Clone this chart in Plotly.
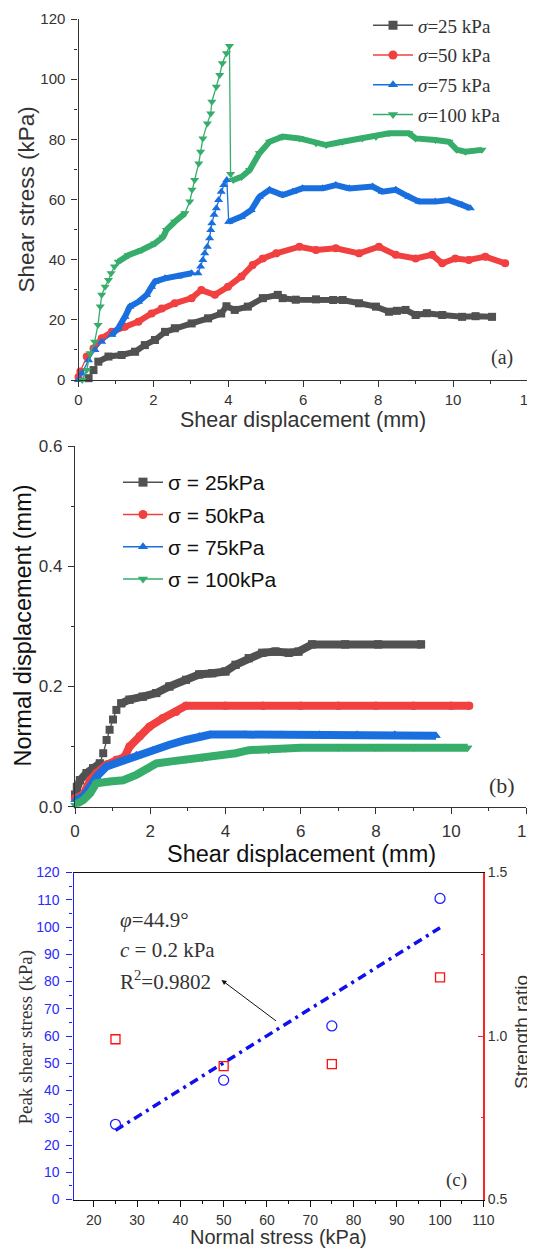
import numpy as np
import plotly.graph_objects as go

# The page shows the figure with an 8 px body margin, so the figure is sized to fit
OFF = 8
W, H = 535 - OFF, 1250 - OFF
def px(x): return (x - OFF) / W
def py(y): return 1 - (y - OFF) / H

# ---------------- Panel (a): shear stress vs shear displacement ----------------
a25_x = [0.27,0.40,0.53,0.80,1.15,1.51,1.77,2.04,2.31,2.57,3.02,3.46,3.81,3.95,4.17,4.52,4.92,5.32,5.45,5.80,6.34,6.80,7.05,7.49,7.94,8.29,8.50,8.73,9.00,9.30,9.71,10.24,10.60,11.04]
a25_y = [0.6,3.3,6.1,7.8,8.3,9.4,11.6,13.3,16.0,17.2,18.8,20.5,22.1,24.5,23.3,24.4,27.2,28.3,27.2,26.7,26.8,26.6,26.6,25.5,24.4,22.7,23.0,23.3,21.6,22.2,21.6,21.0,21.2,21.0]

a50_x = [0.00,0.05,0.22,0.40,0.62,0.89,1.24,1.60,1.95,2.22,2.57,3.02,3.28,3.64,3.99,4.35,4.65,4.92,5.28,5.90,6.34,6.87,7.49,8.02,8.47,9.00,9.44,9.71,10.06,10.42,10.86,11.39]
a50_y = [1.0,2.8,7.8,10.5,13.9,16.0,17.7,19.4,22.1,23.8,25.5,27.2,29.9,28.3,31.0,34.4,38.2,40.4,42.1,44.3,43.2,43.8,42.1,44.3,41.6,40.4,41.6,38.8,40.4,39.9,41.0,38.8]

a75_x = [0.00,0.09,0.27,0.44,0.62,0.89,1.06,1.24,1.37,1.60,1.82,1.95,2.04,2.31,2.66,3.02,3.19,3.26,3.32,3.37,3.44,3.50,3.53,3.56,3.62,3.68,3.74,3.81,3.88,3.96,4.01,4.35,4.61,4.83,5.10,5.45,5.72,5.98,6.52,6.87,7.23,7.85,8.11,8.47,8.82,9.09,9.53,9.89,10.24,10.46]
a75_y = [0.0,2.2,6.6,10.0,12.7,15.0,17.2,21.0,24.4,26.0,28.3,31.0,32.7,33.8,34.4,35.5,35.5,37.7,39.9,42.1,44.3,47.1,49.9,52.1,54.9,57.1,59.8,62.6,64.8,66.5,52.6,54.3,56.5,60.9,63.2,61.5,62.6,63.7,63.7,64.8,63.7,64.3,62.6,63.2,60.9,59.3,59.3,59.8,58.2,57.1]

a100_x = [0.10,0.22,0.31,0.43,0.52,0.58,0.62,0.71,0.80,0.87,0.96,1.06,1.33,1.69,2.04,2.26,2.35,2.57,2.84,2.97,3.03,3.10,3.21,3.26,3.32,3.44,3.53,3.56,3.68,3.77,3.84,3.95,4.03,4.06,4.13,4.35,4.57,4.83,5.10,5.45,5.90,6.34,6.61,7.05,7.58,7.94,8.29,8.82,9.00,9.53,9.89,10.10,10.33,10.77]
a100_y = [0.0,3.3,8.9,12.7,18.3,24.4,28.3,31.0,33.2,35.5,37.7,39.3,41.5,43.2,45.4,47.6,49.9,52.6,55.4,59.3,63.2,66.5,72.0,75.9,80.3,85.3,88.6,92.5,97.5,101.4,105.3,108.6,111.0,68.5,66.5,67.5,69.8,75.4,79.2,80.9,80.3,78.7,78.1,79.2,80.3,80.9,82.0,82.0,80.3,79.8,79.2,76.5,75.9,76.5]

# ---------------- Panel (b): normal displacement vs shear displacement ----------------
b25_x = [0.00,0.05,0.13,0.31,0.48,0.66,0.75,0.84,0.92,1.01,1.10,1.23,1.45,1.80,2.16,2.51,2.95,3.30,3.65,4.00,4.27,4.62,4.98,5.33,5.68,5.94,6.30,7.18,8.06,9.20]
b25_y = [0.020,0.033,0.044,0.056,0.064,0.072,0.089,0.111,0.128,0.145,0.161,0.172,0.178,0.183,0.189,0.200,0.211,0.220,0.222,0.225,0.236,0.247,0.256,0.258,0.256,0.258,0.270,0.270,0.270,0.270]

b50_x = [0.00,0.22,0.40,0.57,0.84,1.10,1.32,1.45,1.72,1.98,2.33,2.69,2.95,4.00,5.00,6.00,7.00,8.00,9.00,10.00,10.48]
b50_y = [0.014,0.020,0.044,0.056,0.070,0.078,0.083,0.100,0.117,0.133,0.147,0.158,0.168,0.168,0.168,0.168,0.168,0.168,0.168,0.168,0.168]

b75_x = [0.00,0.22,0.40,0.57,0.84,1.19,1.63,2.07,2.51,2.95,3.30,3.60,4.50,5.50,6.50,7.50,8.50,9.60]
b75_y = [0.011,0.017,0.033,0.050,0.067,0.075,0.086,0.094,0.103,0.111,0.117,0.120,0.120,0.120,0.120,0.120,0.120,0.118]

b100_x = [0.00,0.22,0.40,0.57,0.92,1.28,1.63,1.98,2.16,2.51,2.95,3.39,3.83,4.27,4.62,5.15,5.59,6.00,7.00,8.00,9.00,10.44]
b100_y = [0.003,0.011,0.022,0.039,0.042,0.044,0.053,0.064,0.072,0.075,0.078,0.081,0.086,0.089,0.094,0.094,0.097,0.098,0.098,0.098,0.098,0.098]

# ---------------- Panel (c): peak strength ----------------
normal_stress = [25, 50, 75, 100]
peak_shear = [27.6, 43.8, 63.7, 110.5]
strength_ratio = [0.990, 0.908, 0.914, 1.179]
fit_x = [25, 100]
fit_y = [25.4, 99.7]

legend_a = ["<i>σ</i>=25 kPa", "<i>σ</i>=50 kPa", "<i>σ</i>=75 kPa", "<i>σ</i>=100 kPa"]
legend_b = ["σ = 25kPa", "σ = 50kPa", "σ = 75kPa", "σ = 100kPa"]

colors = ["#515151", "#F14040", "#1A6FDF", "#37AD6B"]
symbols = ["square", "circle", "triangle-up", "triangle-down"]

SANS = "Liberation Sans, Arial, sans-serif"
SERIF = "Liberation Serif, Times New Roman, serif"
DARK = "#333333"

fig = go.Figure()

# bands where the reference shows dense (thick) markers
a_thick = [[(0.5, 99)], [(0.3, 99)], [(0.85, 3.1), (4.0, 99)], [(1.0, 2.9), (4.1, 99)]]
b_thick = [[(-1, 0.7), (1.2, 99)], [(-1, 99)], [(-1, 99)], [(-1, 99)]]

def add_series(xs, ys, i, thick, xa, ya, lw_thick, ms_thin, ms_thick):
    xs = np.array(xs, dtype=float)
    ys = np.array(ys, dtype=float)
    fig.add_trace(go.Scatter(x=xs, y=ys, mode="lines+markers", xaxis=xa, yaxis=ya,
                             line=dict(color=colors[i], width=1.3),
                             marker=dict(symbol=symbols[i], size=ms_thin, color=colors[i]),
                             showlegend=False, hoverinfo="skip", cliponaxis=False))
    mask = np.zeros(len(xs), dtype=bool)
    for lo, hi in thick:
        mask |= (xs >= lo) & (xs <= hi)
    yy = [float(v) if m else None for v, m in zip(ys, mask)]
    fig.add_trace(go.Scatter(x=xs, y=yy, mode="lines+markers", xaxis=xa, yaxis=ya,
                             line=dict(color=colors[i], width=lw_thick),
                             marker=dict(symbol=symbols[i], size=ms_thick, color=colors[i]),
                             connectgaps=False, showlegend=False, hoverinfo="skip",
                             cliponaxis=False))

for i, (xs, ys) in enumerate([(a25_x, a25_y), (a50_x, a50_y), (a75_x, a75_y), (a100_x, a100_y)]):
    add_series(xs, ys, i, a_thick[i], "x", "y", 6, 8, 7)
for i, (xs, ys) in enumerate([(b25_x, b25_y), (b50_x, b50_y), (b75_x, b75_y), (b100_x, b100_y)]):
    add_series(xs, ys, i, b_thick[i], "x2", "y2", 8, 8, 8)

# legend-only traces
for i in range(4):
    fig.add_trace(go.Scatter(x=[None], y=[None], mode="lines+markers", xaxis="x", yaxis="y",
                             name=legend_a[i], legend="legend", legendgroup="a%d" % i,
                             line=dict(color=colors[i], width=1.5),
                             marker=dict(symbol=symbols[i], size=9, color=colors[i])))
    fig.add_trace(go.Scatter(x=[None], y=[None], mode="lines+markers", xaxis="x2", yaxis="y2",
                             name=legend_b[i], legend="legend2", legendgroup="b%d" % i,
                             line=dict(color=colors[i], width=1.5),
                             marker=dict(symbol=symbols[i], size=9, color=colors[i])))

# panel (c)
fig.add_trace(go.Scatter(x=fit_x, y=fit_y, mode="lines", xaxis="x3", yaxis="y3",
                         line=dict(color="#1010ee", width=3.5, dash="9px,5px,3px,5px"),
                         showlegend=False, hoverinfo="skip"))
fig.add_trace(go.Scatter(x=normal_stress, y=peak_shear, mode="markers", xaxis="x3", yaxis="y3",
                         marker=dict(symbol="circle-open", size=10, color="#2020ff", line=dict(width=1.3)),
                         showlegend=False, hoverinfo="skip", cliponaxis=False))
fig.add_trace(go.Scatter(x=normal_stress, y=strength_ratio, mode="markers", xaxis="x3", yaxis="y4",
                         marker=dict(symbol="square-open", size=9, color="#ff1010", line=dict(width=1.3)),
                         showlegend=False, hoverinfo="skip", cliponaxis=False))

def axis_common(color=DARK, fsize=15, tcolor=DARK):
    return dict(showline=True, linecolor=color, linewidth=1.2, ticks="outside", ticklen=6,
                tickwidth=1.2, tickcolor=color, showgrid=False, zeroline=False, automargin=False,
                tickfont=dict(family=SANS, size=fsize, color=tcolor))

xa = axis_common(fsize=15); xa.update(domain=[px(78.5), px(528)], range=[0, 12], anchor="y",
    tick0=0, dtick=2, ticklabeloverflow="allow", ticklabelstandoff=0,
    minor=dict(dtick=1, ticks="outside", ticklen=3, tickcolor=DARK, tickwidth=1.2))
ya = axis_common(fsize=15); ya.update(domain=[py(380), py(19)], range=[0, 120], anchor="x",
    tick0=0, dtick=20, ticklabelstandoff=3,
    minor=dict(dtick=10, ticks="outside", ticklen=3, tickcolor=DARK, tickwidth=1.2))

xb = axis_common(fsize=17); xb.update(domain=[px(75), px(526.4)], range=[0, 12], anchor="y2",
    tick0=0, dtick=2, ticklabeloverflow="allow", ticklabelstandoff=3,
    minor=dict(dtick=1, ticks="outside", ticklen=3, tickcolor=DARK, tickwidth=1.2))
yb = axis_common(fsize=17); yb.update(domain=[py(806.7), py(446)], range=[0, 0.6], anchor="x2",
    tick0=0, dtick=0.2, tickformat=".1f", ticklabelstandoff=2,
    minor=dict(dtick=0.1, ticks="outside", ticklen=3, tickcolor=DARK, tickwidth=1.2))

xc = axis_common(color="#111111", fsize=14); xc.update(domain=[px(73.5), px(483.3)], range=[15.3, 110],
    anchor="y3", tick0=0, dtick=10, mirror=True, ticklabelstandoff=2,
    minor=dict(dtick=5, ticks="outside", ticklen=3, tickcolor="#111111", tickwidth=1.2))
yc = axis_common(color="#2020ff", fsize=14, tcolor="#2a2aff"); yc.update(domain=[py(1199.5), py(872.5)],
    range=[0, 120], anchor="x3", tick0=0, dtick=10, ticklabelstandoff=4,
    minor=dict(dtick=5, ticks="outside", ticklen=3, tickcolor="#2020ff", tickwidth=1.2))
yd = axis_common(color="#ff2020", fsize=14); yd.update(range=[0.5, 1.5], anchor="x3", overlaying="y3",
    side="right", ticks="inside", tick0=0.5, dtick=0.5, tickformat=".1f", linewidth=1.5,
    minor=dict(dtick=0.25, ticks="inside", ticklen=3, tickcolor="#ff2020", tickwidth=1.2))

ann = []
def txt(x, y, s, size, family=SANS, angle=0, xanchor="center", color=DARK):
    ann.append(dict(x=px(x), y=py(y), xref="paper", yref="paper", text=s, showarrow=False,
                    textangle=angle, xanchor=xanchor, yanchor="middle",
                    font=dict(family=family, size=size, color=color)))

txt(25.5, 200, "Shear stress (kPa)", 22.5, angle=-90)
txt(303, 420.5, "Shear displacement (mm)", 21.5)
txt(502, 358, "(a)", 20, family=SERIF)
txt(22.5, 626, "Normal displacement (mm)", 23.5, angle=-90, color="#111111")
txt(301, 854, "Shear displacement (mm)", 23.5, color="#111111")
txt(502, 785, "(b)", 22, family=SERIF)
txt(25.6, 1037, "Peak shear stress (kPa)", 19, family=SERIF, angle=-90)
txt(521, 1032, "Strength ratio", 19, angle=-90)
txt(278, 1237, "Normal stress (kPa)", 20)
txt(456.6, 1180, "(c)", 19, family=SERIF)
txt(117.5, 920, "<i>φ</i>=44.9°", 21, family=SERIF, xanchor="left")
txt(117.5, 950, "<i>c</i> = 0.2 kPa", 21, family=SERIF, xanchor="left")
txt(117.5, 980, "R<sup>2</sup>=0.9802", 21, family=SERIF, xanchor="left")
ann.append(dict(x=px(221.5), y=py(980), xref="paper", yref="paper", text="", showarrow=True,
                ax=56, ay=42, arrowhead=2, arrowsize=1, arrowwidth=1, arrowcolor="#111111",
                standoff=0, startstandoff=0))

fig.update_layout(
    template="none",
    width=W, height=H, autosize=False, margin=dict(l=0, r=0, t=0, b=0, autoexpand=False),
    paper_bgcolor="white", plot_bgcolor="white",
    xaxis=xa, yaxis=ya, xaxis2=xb, yaxis2=yb, xaxis3=xc, yaxis3=yc, yaxis4=yd,
    annotations=ann,
    legend=dict(x=px(368), y=py(6.5), xanchor="left", yanchor="top", bgcolor="rgba(0,0,0,0)",
                font=dict(family=SERIF, size=19, color=DARK), traceorder="grouped",
                tracegroupgap=2, itemwidth=40),
    legend2=dict(x=px(118), y=py(462), xanchor="left", yanchor="top", bgcolor="rgba(0,0,0,0)",
                 font=dict(family=SANS, size=21, color="#111111"), traceorder="grouped",
                 tracegroupgap=2, itemwidth=40),
)

fig.write_html("out.html")
